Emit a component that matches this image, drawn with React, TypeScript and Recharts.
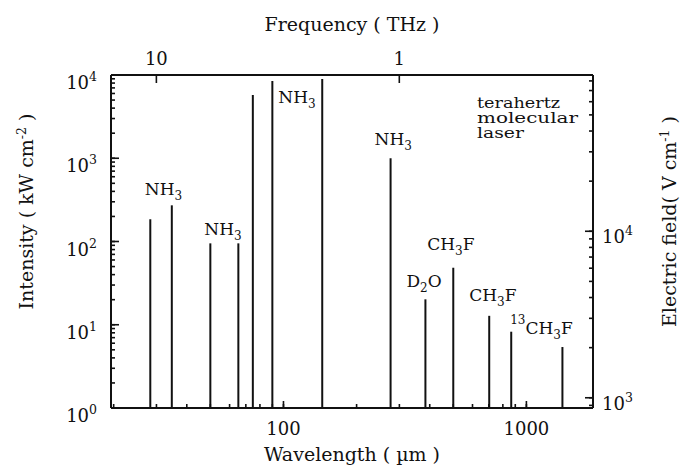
import React from "react";
import { ComposedChart, Line, XAxis, YAxis, ReferenceDot } from "recharts";

// emission lines: wavelength (µm) and peak intensity (kW cm^-2)
const wavelengths = [28.3, 34.7, 50.0, 65.2, 74.8, 90.0, 144.4, 276, 384, 500, 703, 866, 1407];
const intensities = [185, 272, 95, 95, 5750, 8470, 8950, 1000, 20.2, 48.4, 12.8, 8.25, 5.4];

// axis ticks
const wavelengthTicks = [20, 30, 40, 50, 60, 70, 80, 90, 100, 200, 300, 400, 500, 600, 700, 800, 900, 1000];
const wavelengthLabels = [100, 1000];
const frequencyTicks = [10, 1]; // THz
const intensityTicks = [
  1, 2, 3, 4, 5, 6, 7, 8, 9,
  10, 20, 30, 40, 50, 60, 70, 80, 90,
  100, 200, 300, 400, 500, 600, 700, 800, 900,
  1000, 2000, 3000, 4000, 5000, 6000, 7000, 8000, 9000,
  10000,
];
const fieldTicks = [
  900, 1000, 2000, 3000, 4000, 5000, 6000, 7000, 8000, 9000,
  10000, 20000, 30000, 40000, 50000, 60000, 70000, 80000,
];

// species labels, attached to an emission line
const labelTexts = ["NH3", "NH3", "NH3", "NH3", "D2O", "CH3F", "CH3F", "13CH3F"];
const labelLines = [1, 2, 5, 7, 8, 9, 10, 11];

const WL_DOMAIN: [number, number] = [19.5, 1880];
const I_DOMAIN: [number, number] = [1, 10000];
const C_UM_THZ = 299.79; // λ(µm) = c / f(THz)
const Z0 = 376.73; // I = E^2 / (2 Z0)
const toField = (kw: number) => Math.sqrt(2 * Z0 * kw * 1000);
const E_DOMAIN: [number, number] = [toField(I_DOMAIN[0]), toField(I_DOMAIN[1])];

const ink = "#111";
const serif = "'DejaVu Serif', serif";
const MINOR = 4; // inward minor tick length (native tick lines)

const isDecade = (v: number) => Math.abs(Math.log10(v) - Math.round(Math.log10(v))) < 1e-9;

// layout offsets of the species labels relative to their line top (px)
const labelOffsets = [
  [-27, -10], [-6, -8], [6, 22], [-16, -13], [-19, -12], [-26, -18], [-20, -15], [-1, 2],
];

function Formula({ x, y, text }: { x: number; y: number; text: string }) {
  const m = text.match(/^(\d*)(.*)$/)!;
  const iso = m[1];
  const parts = m[2].split(/(\d+)/).filter(Boolean);
  const spans: React.ReactNode[] = [];
  let shift = 0;
  if (iso) {
    spans.push(<tspan key="iso" fontSize={12} dy={-10}>{iso}</tspan>);
    shift = -10;
  }
  parts.forEach((p, i) => {
    const num = /^\d+$/.test(p);
    const target = num ? 5 : 0;
    spans.push(
      <tspan key={i} fontSize={num ? 12 : 17} dy={target - shift}>
        {p}
      </tspan>
    );
    shift = target;
  });
  return (
    <text x={x} y={y} fontFamily={serif} fontSize={17} fill={ink}>
      {spans}
    </text>
  );
}

function Pow({ x, y, exp, anchor }: { x: number; y: number; exp: number; anchor: string }) {
  return (
    <text x={x} y={y} textAnchor={anchor as any} fontFamily={serif} fontSize={18} fill={ink}>
      10<tspan dy={-8} fontSize={12.5}>{exp}</tspan>
    </text>
  );
}

// native tick lines are drawn inward (negative tickSize); x / y arrive at the inner end
const LeftTick = (props: any) => {
  const { x, y, payload } = props;
  const ax = x - MINOR;
  if (!isDecade(payload.value)) return <g />;
  return (
    <g>
      <line x1={ax} x2={ax + 8} y1={y} y2={y} stroke={ink} strokeWidth={1.6} />
      <Pow x={ax - 14} y={y + 14} exp={Math.round(Math.log10(payload.value))} anchor="end" />
    </g>
  );
};

const RightTick = (props: any) => {
  const { x, y, payload } = props;
  const ax = x + MINOR;
  if (!isDecade(payload.value)) return <g />;
  return (
    <g>
      <line x1={ax} x2={ax - 8} y1={y} y2={y} stroke={ink} strokeWidth={1.6} />
      <Pow x={ax + 9} y={y + 12} exp={Math.round(Math.log10(payload.value))} anchor="start" />
    </g>
  );
};

const BottomTick = (props: any) => {
  const { x, y, payload } = props;
  const ay = y + MINOR;
  if (!wavelengthLabels.includes(payload.value)) return <g />;
  return (
    <g>
      <line x1={x} x2={x} y1={ay} y2={ay - 7} stroke={ink} strokeWidth={1.6} />
      <text x={x} y={ay + 27} textAnchor="middle" fontFamily={serif} fontSize={18} fill={ink}>
        {payload.value}
      </text>
    </g>
  );
};

const TopTick = (props: any) => {
  const { x, y, payload } = props;
  const ay = y - 8;
  const f = Math.round((C_UM_THZ / payload.value) * 10) / 10;
  return (
    <text x={x} y={ay - 10} textAnchor="middle" fontFamily={serif} fontSize={18} fill={ink}>
      {f}
    </text>
  );
};

const titleProps = { fontFamily: serif, fontSize: 19, fill: ink };

export default function App() {
  const axisLine = { stroke: ink, strokeWidth: 2 };
  const tickLine = { stroke: ink, strokeWidth: 1.6 };
  return (
    <div style={{ position: "absolute", left: 0, top: 0, background: "#fff" }}>
      <ComposedChart width={686} height={469} margin={{ top: 20, right: 10, bottom: 10, left: 10 }}>
        <XAxis
          xAxisId="wl"
          dataKey="w"
          type="number"
          scale="log"
          domain={WL_DOMAIN}
          allowDataOverflow
          ticks={wavelengthTicks}
          interval={0}
          tickSize={-MINOR}
          tickMargin={0}
          tick={BottomTick}
          tickLine={tickLine}
          axisLine={axisLine}
          height={51}
          label={(p: any) => {
            const vb = p.viewBox;
            return (
              <text x={vb.x + vb.width / 2} y={vb.y + 53} textAnchor="middle" {...titleProps}>
                Wavelength ( µm )
              </text>
            );
          }}
        />
        <XAxis
          xAxisId="freq"
          orientation="top"
          dataKey="w"
          type="number"
          scale="log"
          domain={WL_DOMAIN}
          allowDataOverflow
          ticks={frequencyTicks.map((f) => C_UM_THZ / f)}
          interval={0}
          tickSize={-8}
          tickMargin={0}
          tick={TopTick}
          tickLine={tickLine}
          axisLine={axisLine}
          height={55}
          label={(p: any) => {
            const vb = p.viewBox;
            return (
              <text x={vb.x + vb.width / 2} y={vb.y + 11} textAnchor="middle" {...titleProps}>
                Frequency ( THz )
              </text>
            );
          }}
        />
        <YAxis
          yAxisId="int"
          type="number"
          scale="log"
          domain={I_DOMAIN}
          allowDataOverflow
          ticks={intensityTicks}
          interval={0}
          tickSize={-MINOR}
          tickMargin={0}
          tick={LeftTick}
          tickLine={tickLine}
          axisLine={axisLine}
          width={101}
          label={(p: any) => {
            const vb = p.viewBox;
            const cx = vb.x + 23;
            const cy = vb.y + vb.height / 2 - 30;
            return (
              <text x={cx} y={cy} textAnchor="middle" transform={`rotate(-90, ${cx}, ${cy})`} {...titleProps}>
                Intensity ( kW cm<tspan dy={-7} fontSize={12.5}>-2</tspan>
                <tspan dy={7}> )</tspan>
              </text>
            );
          }}
        />
        <YAxis
          yAxisId="field"
          orientation="right"
          type="number"
          scale="log"
          domain={E_DOMAIN}
          allowDataOverflow
          ticks={fieldTicks}
          interval={0}
          tickSize={-MINOR}
          tickMargin={0}
          tick={RightTick}
          tickLine={tickLine}
          axisLine={axisLine}
          width={83}
          label={(p: any) => {
            const vb = p.viewBox;
            const cx = vb.x + 83;
            const cy = vb.y + vb.height / 2 - 20;
            return (
              <text x={cx} y={cy} textAnchor="middle" transform={`rotate(-90, ${cx}, ${cy})`} {...titleProps}>
                Electric field( V cm<tspan dy={-7} fontSize={12.5}>-1</tspan>
                <tspan dy={7}> )</tspan>
              </text>
            );
          }}
        />

        {wavelengths.map((w, i) => (
          <Line
            key={`line-${i}`}
            xAxisId="wl"
            yAxisId="int"
            data={[
              { w, v: I_DOMAIN[0] },
              { w, v: intensities[i] },
            ]}
            dataKey="v"
            type="linear"
            stroke={ink}
            strokeWidth={2}
            dot={false}
            activeDot={false}
            isAnimationActive={false}
          />
        ))}

        {labelTexts.map((t, i) => {
          const li = labelLines[i];
          const [dx, dy] = labelOffsets[i];
          return (
            <ReferenceDot
              key={`lab-${i}`}
              xAxisId="wl"
              yAxisId="int"
              x={wavelengths[li]}
              y={intensities[li]}
              r={0}
              fill="none"
              stroke="none"
              label={(p: any) => <Formula x={p.viewBox.x + dx} y={p.viewBox.y + dy} text={t} />}
            />
          );
        })}

        <ReferenceDot
          xAxisId="wl"
          yAxisId="int"
          x={WL_DOMAIN[1]}
          y={I_DOMAIN[1]}
          r={0}
          fill="none"
          stroke="none"
          label={(p: any) => {
            const x0 = p.viewBox.x - 116;
            const y0 = p.viewBox.y;
            const common = { fontFamily: serif, fontSize: 14, fill: ink, lengthAdjust: "spacingAndGlyphs" as const };
            return (
              <g>
                <text x={x0} y={y0 + 33} textLength={83} {...common}>terahertz</text>
                <text x={x0} y={y0 + 48} textLength={101} {...common}>molecular</text>
                <text x={x0} y={y0 + 63} textLength={47} {...common}>laser</text>
              </g>
            );
          }}
        />
      </ComposedChart>
    </div>
  );
}
